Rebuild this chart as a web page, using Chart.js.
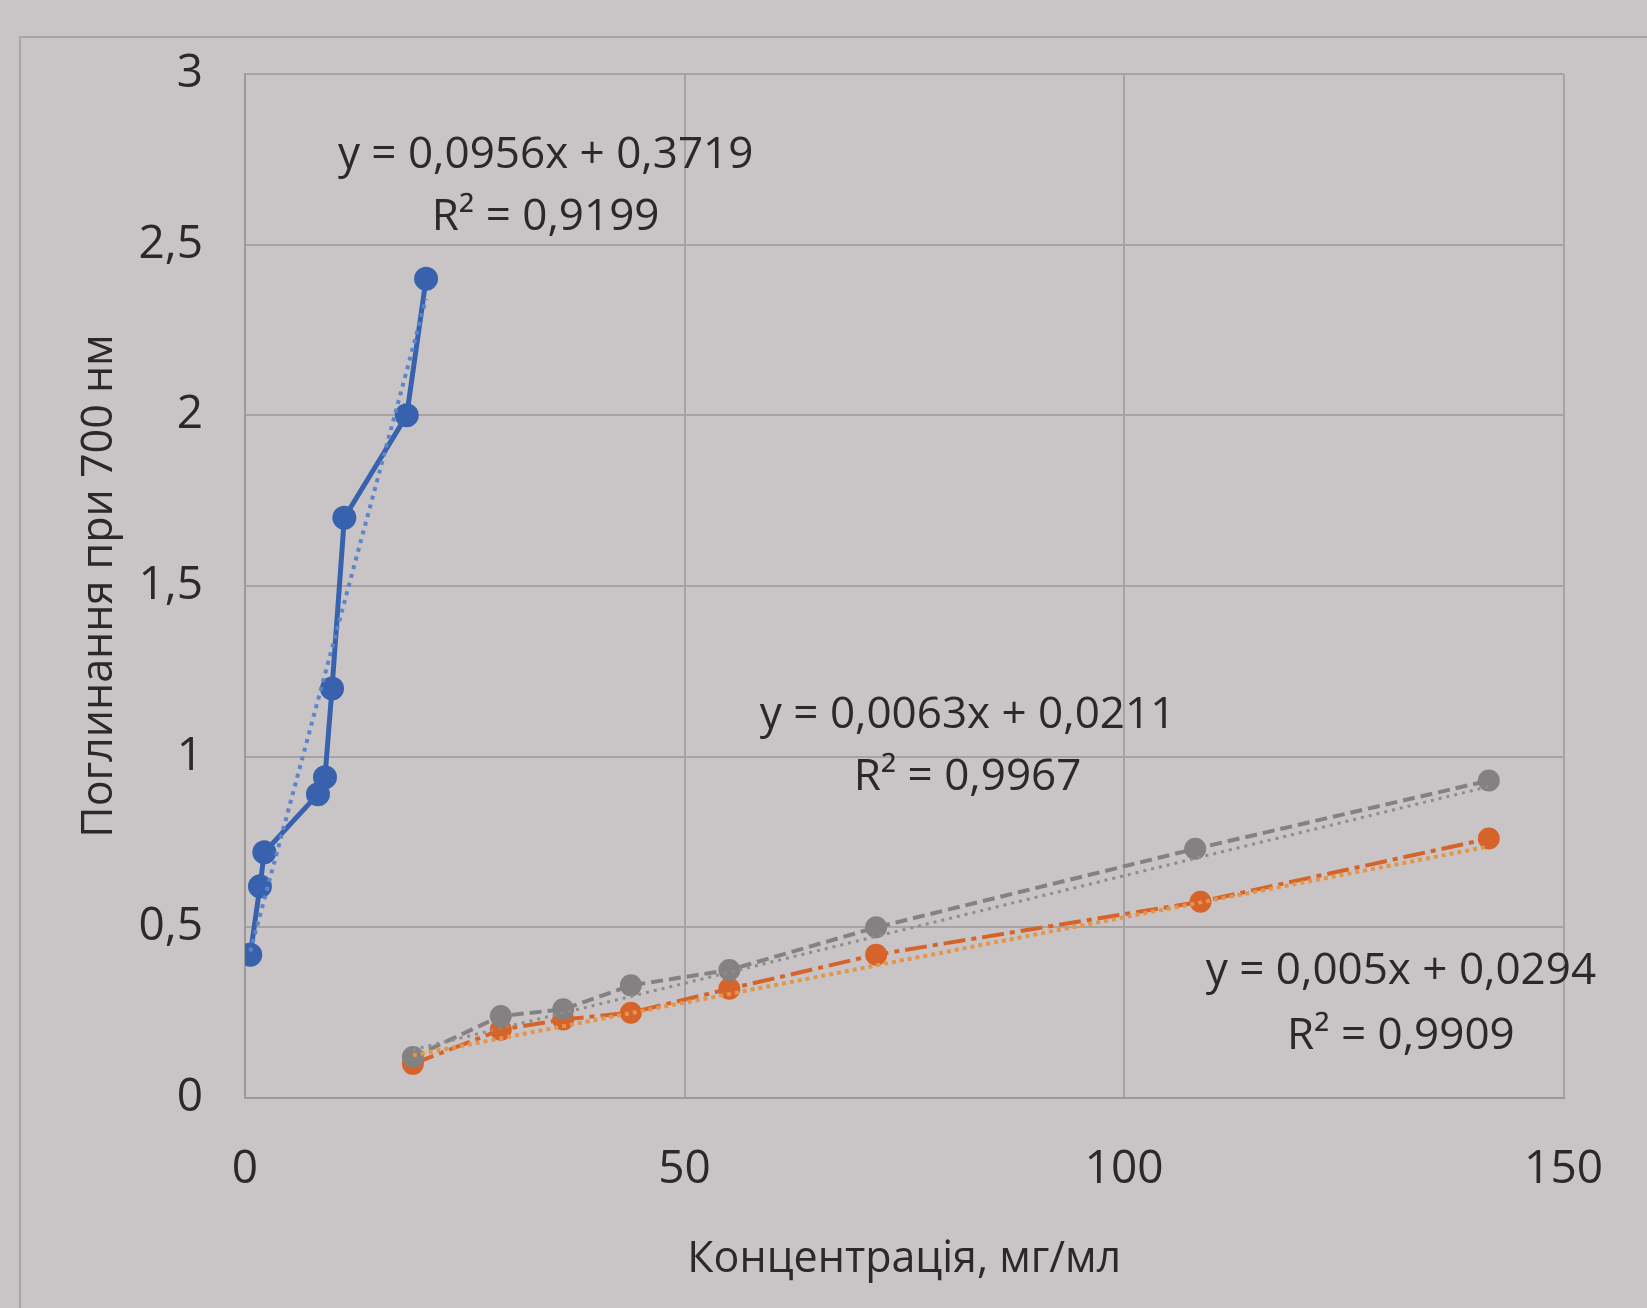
<!DOCTYPE html>
<html>
<head>
<meta charset="utf-8">
<script src="https://cdn.jsdelivr.net/npm/chart.js@4.4.0/dist/chart.umd.min.js"></script>
<style>
html, body { margin: 0; padding: 0; background: #c9c4c5; }
</style>
</head>
<body>
<canvas id="myChart" width="1647" height="1308"></canvas>
<script>
// series
var blueX = [0.6, 1.7, 2.2, 8.3, 9.1, 9.9, 11.3, 18.4, 20.6];
var blueY = [0.42, 0.62, 0.72, 0.89, 0.94, 1.2, 1.7, 2.0, 2.4];

var grayX = [19.1, 29.1, 36.2, 43.9, 55.1, 71.8, 108.1, 141.5];
var grayY = [0.12, 0.24, 0.26, 0.33, 0.375, 0.5, 0.73, 0.93];

var orangeX = [19.1, 29.1, 36.2, 43.9, 55.1, 71.8, 108.7, 141.5];
var orangeY = [0.1, 0.2, 0.23, 0.25, 0.32, 0.42, 0.575, 0.76];

// linear trendlines as printed on the chart: [slope, intercept]
var blueFit = [0.0956, 0.3719];
var grayFit = [0.0063, 0.0211];
var orangeFit = [0.005, 0.0294];

var labelTexts = [
    'y = 0,0956x + 0,3719', 'R² = 0,9199',
    'y = 0,0063x + 0,0211', 'R² = 0,9967',
    'y = 0,005x + 0,0294', 'R² = 0,9909'
];
var labelX = [34.2, 34.2, 82.2, 82.2, 131.5, 131.5];
var labelY = [2.76, 2.58, 1.12, 0.94, 0.37, 0.18];

var xTicks = [0, 50, 100, 150];
var yTicks = [0, 0.5, 1, 1.5, 2, 2.5, 3];

function toPoints(xs, ys) {
    var out = [];
    for (var i = 0; i < xs.length; i++) out.push({ x: xs[i], y: ys[i] });
    return out;
}

function fitLine(xs, fit) {
    var lo = Math.min.apply(null, xs), hi = Math.max.apply(null, xs);
    return [{ x: lo, y: fit[0] * lo + fit[1] }, { x: hi, y: fit[0] * hi + fit[1] }];
}

var fontName = "'Open Sans', 'DejaVu Sans', sans-serif";

var chartBg = {
    id: 'chartBg',
    beforeDraw: function (chart) {
        var ctx = chart.ctx;
        ctx.save();
        ctx.fillStyle = '#c9c4c5';
        ctx.fillRect(0, 0, chart.width, chart.height);
        ctx.strokeStyle = '#aaa5a6';
        ctx.lineWidth = 2;
        ctx.strokeRect(20, 37, chart.width, chart.height);
        ctx.restore();
    }
};

var fitLabels = {
    id: 'fitLabels',
    afterDatasetsDraw: function (chart) {
        var ctx = chart.ctx;
        var xs = chart.scales.x, ys = chart.scales.y;
        ctx.save();
        ctx.fillStyle = '#2b292a';
        ctx.font = '44px ' + fontName;
        ctx.textAlign = 'center';
        ctx.textBaseline = 'middle';
        for (var i = 0; i < labelTexts.length; i++) {
            ctx.fillText(labelTexts[i], xs.getPixelForValue(labelX[i]), ys.getPixelForValue(labelY[i]));
        }
        ctx.restore();
    }
};

var ctx = document.getElementById('myChart').getContext('2d');
var myChart = new Chart(ctx, {
    type: 'scatter',
    data: {
        datasets: [{
            data: fitLine(blueX, blueFit),
            borderColor: '#5b86cc',
            borderWidth: 4,
            borderDash: [4, 5],
            pointRadius: 0,
            showLine: true
        }, {
            data: fitLine(grayX, grayFit),
            borderColor: '#8e8c8d',
            borderWidth: 3,
            borderDash: [3, 5],
            pointRadius: 0,
            showLine: true
        }, {
            data: fitLine(orangeX, orangeFit),
            borderColor: '#e3964a',
            borderWidth: 4,
            borderDash: [4, 4],
            pointRadius: 0,
            showLine: true
        }, {
            data: toPoints(blueX, blueY),
            borderColor: '#3862ad',
            backgroundColor: '#3862ad',
            borderWidth: 5,
            pointRadius: 9.5,
            showLine: true
        }, {
            data: toPoints(grayX, grayY),
            borderColor: '#838182',
            backgroundColor: '#838182',
            borderWidth: 4,
            borderDash: [12, 6],
            pointRadius: 9,
            showLine: true
        }, {
            data: toPoints(orangeX, orangeY),
            borderColor: '#d6642a',
            backgroundColor: '#d6642a',
            borderWidth: 4,
            borderDash: [22, 6, 5, 6],
            pointRadius: 9,
            showLine: true
        }]
    },
    options: {
        responsive: false,
        animation: false,
        layout: { padding: { top: 74, right: 66, left: 0, bottom: 0 } },
        plugins: {
            legend: { display: false },
            tooltip: { enabled: false }
        },
        scales: {
            x: {
                type: 'linear',
                min: 0,
                max: 150,
                afterBuildTicks: function (scale) {
                    scale.ticks = xTicks.map(function (v) { return { value: v }; });
                },
                afterFit: function (scale) { scale.height = 210; },
                grid: { color: '#a7a2a3', lineWidth: 2, drawTicks: false },
                border: { color: '#9d9899', width: 2 },
                ticks: {
                    padding: 44,
                    color: '#2b292a',
                    font: { family: fontName, size: 46 }
                },
                title: {
                    display: true,
                    text: 'Концентрація, мг/мл',
                    color: '#2b292a',
                    font: { family: fontName, size: 43 },
                    padding: { top: 0, bottom: 22 }
                }
            },
            y: {
                type: 'linear',
                min: 0,
                max: 3,
                afterBuildTicks: function (scale) {
                    scale.ticks = yTicks.map(function (v) { return { value: v }; });
                },
                afterFit: function (scale) { scale.width = 245; },
                grid: { color: '#a7a2a3', lineWidth: 2, drawTicks: false },
                border: { color: '#9d9899', width: 2 },
                ticks: {
                    padding: 42,
                    color: '#2b292a',
                    font: { family: fontName, size: 46 },
                    callback: function (v) { return String(v).replace('.', ','); }
                },
                title: {
                    display: true,
                    text: 'Поглинання при 700 нм',
                    color: '#2b292a',
                    font: { family: fontName, size: 43 },
                    padding: { top: 74, bottom: 0 }
                }
            }
        }
    },
    plugins: [chartBg, fitLabels]
});
</script>
</body>
</html>
